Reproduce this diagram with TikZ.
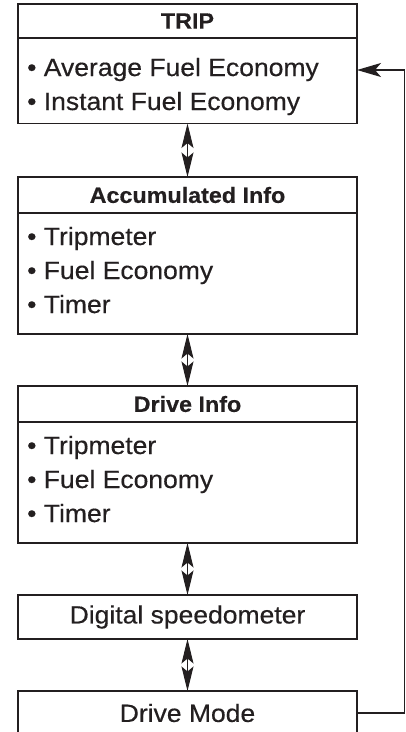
\documentclass[tikz,border=0pt]{standalone}
\usepackage{fontspec}
\setmainfont{Liberation Sans}[FakeStretch=1.06, FakeBold=0.4]
\usetikzlibrary{arrows.meta}
\definecolor{ink}{HTML}{231F20}
\tikzset{
  boxline/.style={draw=ink, line width=1.6pt},
  frame/.style={boxline, rectangle, minimum width=339pt, inner sep=0pt, outer sep=0pt},
  head/.style={frame, font=\fontsize{22}{26}\selectfont\bfseries, text=ink},
  item/.style={anchor=base west, inner sep=0pt, font=\fontsize{25}{30}\selectfont, text=ink},
  plain/.style={frame, font=\fontsize{25}{30}\selectfont, text=ink},
  dblarrow/.style={draw=ink, line width=0.9pt,
    {Stealth[length=24.5pt, width=12pt, inset=5pt]}-{Stealth[length=24.5pt, width=12pt, inset=5pt]}},
  backarrow/.style={draw=ink, line width=1.4pt, -{Stealth[length=24pt, width=14pt, inset=6pt]}}
}
\begin{document}
\begin{tikzpicture}[x=1pt, y=-1pt]
\useasboundingbox (0,0) rectangle (406,732);
% TRIP
\node[frame, minimum height=119pt] (trip) at (187.5,64) {};
\node[head, minimum height=34pt] (triph) at (187.5,21) {TRIP};
\node[item] (t1) at (27,76) {• Average Fuel Economy};
\node[item] (t2) at (27,110) {• Instant Fuel Economy};
% Accumulated Info
\node[frame, minimum height=157pt] (acc) at (187.5,255.5) {};
\node[head, minimum height=36pt] (acch) at (187.5,195) {Accumulated Info};
\node[item] (a1) at (27,245) {• Tripmeter};
\node[item] (a2) at (27,279) {• Fuel Economy};
\node[item] (a3) at (27,313) {• Timer};
% Drive Info
\node[frame, minimum height=157pt] (drv) at (187.5,464.5) {};
\node[head, minimum height=36pt] (drvh) at (187.5,404) {Drive Info};
\node[item] (d1) at (27,454) {• Tripmeter};
\node[item] (d2) at (27,488) {• Fuel Economy};
\node[item] (d3) at (27,522) {• Timer};
% Digital speedometer
\node[plain, minimum height=44pt] (dig) at (187.5,617) {Digital speedometer};
% Drive Mode (open at the bottom)
\node[plain, draw=none, minimum height=44pt] (mode) at (187.5,713) {Drive Mode};
\draw[boxline] (mode.south west) -- (mode.north west) -- (mode.north east) -- (mode.south east);
% double arrows
\draw[dblarrow] (trip.south) -- (acc.north);
\draw[dblarrow] (acc.south) -- (drv.north);
\draw[dblarrow] (drv.south) -- (dig.north);
\draw[dblarrow] (dig.south) -- (mode.north);
% feedback
\coordinate (c1) at (404.5,713);
\coordinate (c2) at (404.5,70);
\coordinate (tin) at (357,70);
\draw[backarrow] (mode.east) -- (c1) -- (c2) -- (tin);
\end{tikzpicture}
\end{document}
